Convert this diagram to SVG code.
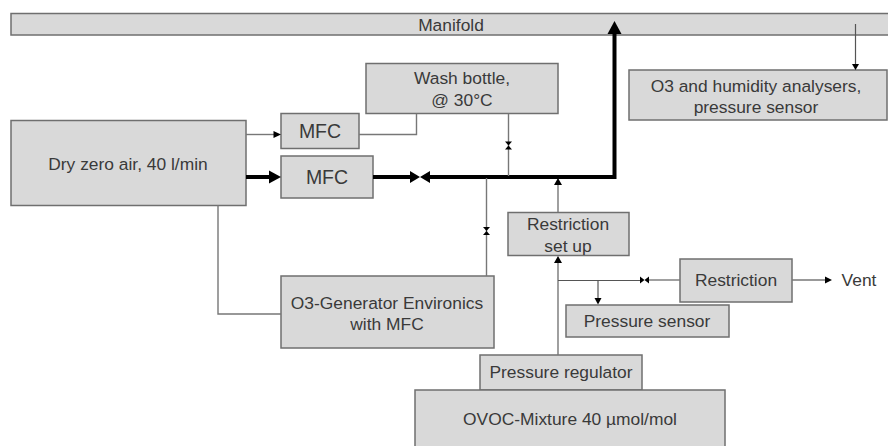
<svg xmlns="http://www.w3.org/2000/svg" width="888" height="446" viewBox="0 0 888 446">
<style>
.b{fill:#d9d9d9;stroke:#6f6f6f;stroke-width:1.5}
text{font-family:"Liberation Sans",Arial,sans-serif;font-size:17.4px;fill:#3a3a3a;text-anchor:middle}
.m{font-size:19.500px}
.l{fill:none;stroke:#777;stroke-width:1.4}
.d{fill:none;stroke:#555;stroke-width:1.2}
.t{fill:none;stroke:#000;stroke-width:4}
.a{fill:#000;stroke:none}
</style>
<g id="manifold"><rect class="b" x="11" y="13.500" width="878" height="21.500"/><text x="451" y="31">Manifold</text></g>
<g id="wash-bottle"><rect class="b" x="366" y="63.500" width="192" height="50"/><text x="462" y="84">Wash bottle,</text><text x="462" y="106">@ 30°C</text></g>
<g id="analysers"><rect class="b" x="629" y="70" width="258" height="50"/><text x="756" y="92">O3 and humidity analysers,</text><text x="756" y="113">pressure sensor</text></g>
<g id="dry-air"><rect class="b" x="11" y="120.500" width="235" height="85"/><text x="128" y="170">Dry zero air, 40 l/min</text></g>
<g id="mfc-1"><rect class="b" x="281" y="113.500" width="78" height="35"/><text class="m" x="320" y="138">MFC</text></g>
<g id="mfc-2"><rect class="b" x="281" y="156" width="92" height="42"/><text class="m" x="327" y="184">MFC</text></g>
<g id="restriction-setup"><rect class="b" x="508" y="212.500" width="121" height="43"/><text x="568" y="230">Restriction</text><text x="568" y="252">set up</text></g>
<g id="restriction"><rect class="b" x="680" y="259" width="112" height="43"/><text x="736" y="286">Restriction</text></g>
<g id="vent"><text x="859" y="286">Vent</text></g>
<g id="pressure-sensor"><rect class="b" x="566" y="305" width="163" height="32"/><text x="647" y="327">Pressure sensor</text></g>
<g id="o3-generator"><rect class="b" x="281" y="276" width="213" height="72"/><text x="387" y="309">O3-Generator Environics</text><text x="387" y="330">with MFC</text></g>
<g id="pressure-regulator"><rect class="b" x="480" y="355" width="162" height="35"/><text x="561" y="378">Pressure regulator</text></g>
<g id="ovoc"><rect class="b" x="415" y="390" width="310" height="57"/><text x="570" y="425">OVOC-Mixture 40 µmol/mol</text></g>
<g id="connectors">
<path class="t" d="M246 177H272"/><path class="a" d="M269 170.500L281 177L269 183.500Z"/>
<path class="t" d="M373 177H412M428 177H614.500V32"/>
<path class="a" d="M410 171L420 177L410 183ZM430 171L420 177L430 183Z"/>
<path class="a" d="M607.500 34L614.500 21L621.500 34Z"/>
<path class="l" d="M246 134.500H275"/><path class="a" d="M273.500 131L281 134.500L273.500 138Z"/>
<path class="l" d="M359 134.500H416.500V113.500"/>
<path class="l" d="M508.500 113.500V176"/><path class="a" d="M505 141.500H512L508.500 145.500L512 149.500H505L508.500 145.500Z"/>
<path class="l" d="M486.500 178V276"/><path class="a" d="M483 227H490L486.500 231L490 235H483L486.500 231Z"/>
<path class="l" d="M218 205V314H281"/>
<path class="l" d="M558 355V262"/><path class="l" d="M558 212V184"/>
<path class="a" d="M554 185L558 178L562 185ZM554 263L558 256L562 263Z"/>
<path class="d" d="M558 280.500H641"/><path class="l" d="M649 280H680"/>
<path class="a" d="M640 276.500L644.500 280L640 283.500ZM649 276.500L644.500 280L649 283.500Z"/>
<path class="d" d="M598 280.500V299"/><path class="a" d="M594.500 298H601.500L598 304.500Z"/>
<path class="l" d="M792 280H826"/><path class="a" d="M825 276.500L832 280L825 283.500Z"/>
<path class="d" d="M855.500 24V65"/>
<path class="a" d="M852 64H859L855.500 70Z"/>
</g>
</svg>
